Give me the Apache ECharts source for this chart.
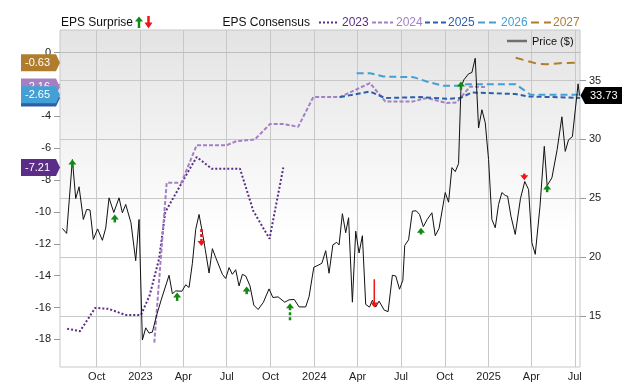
<!DOCTYPE html>
<html><head><meta charset="utf-8">
<script src="https://cdn.jsdelivr.net/npm/echarts@6/dist/echarts.min.js"></script>
<style>html,body{margin:0;padding:0;background:#fff}#c{width:640px;height:382px}</style>
</head><body><div id="c"></div>
<script>
// ---------- DATA ----------
const priceDates = ['2022-07-21','2022-07-30','2022-08-11','2022-08-18','2022-08-25','2022-09-03','2022-09-10','2022-09-17','2022-09-24','2022-10-03','2022-10-13','2022-10-20','2022-10-27','2022-11-06','2022-11-17','2022-11-24','2022-12-01','2022-12-12','2022-12-22','2022-12-29',
'2023-01-05','2023-01-12','2023-01-19','2023-01-26','2023-02-04','2023-02-14','2023-03-02','2023-03-09','2023-03-16','2023-03-29','2023-04-06','2023-04-13','2023-04-20','2023-04-27','2023-05-04','2023-05-10','2023-05-17','2023-05-25','2023-06-01','2023-06-08','2023-06-15','2023-06-22','2023-06-29','2023-07-06','2023-07-13','2023-07-20','2023-07-27','2023-08-03','2023-08-10','2023-08-19','2023-08-27','2023-09-05','2023-09-16','2023-09-28','2023-10-06','2023-10-17','2023-10-31','2023-11-09','2023-11-20','2023-11-30','2023-12-14','2023-12-21','2023-12-31',
'2024-01-09','2024-01-17','2024-01-25','2024-02-01','2024-02-09','2024-02-17','2024-02-22','2024-02-29','2024-03-07','2024-03-13','2024-03-21','2024-03-28','2024-04-04','2024-04-11','2024-04-18','2024-04-26','2024-05-02','2024-05-09','2024-05-16','2024-05-27','2024-06-04','2024-06-13','2024-06-20','2024-06-28','2024-07-05','2024-07-09','2024-07-17','2024-07-25','2024-08-02','2024-08-09','2024-08-17','2024-08-25','2024-09-04','2024-09-11','2024-09-19','2024-10-02','2024-10-09','2024-10-16','2024-10-23','2024-10-30','2024-11-04','2024-11-10','2024-11-20','2024-11-27','2024-12-04','2024-12-11','2024-12-18','2024-12-25',
'2025-01-01','2025-01-08','2025-01-15','2025-01-22','2025-01-29','2025-02-05','2025-02-10','2025-02-17','2025-02-26','2025-03-09','2025-03-18','2025-03-26','2025-04-02','2025-04-09','2025-04-19','2025-04-28','2025-05-04','2025-05-14','2025-05-25','2025-06-04','2025-06-11','2025-06-18','2025-06-26','2025-07-08','2025-07-11'];
const priceValues = [22.43,22.01,28.28,24.97,25.97,23.19,24.04,24.00,21.50,22.39,21.42,22.46,25.03,23.79,25.03,23.76,24.47,22.92,19.69,23.19,
12.94,13.98,13.53,13.62,15.06,16.42,18.45,16.88,17.12,17.09,17.64,17.41,19.47,22.35,23.62,22.31,20.65,18.64,20.71,19.95,19.24,18.53,18.17,19.10,18.53,18.92,17.54,18.53,18.39,17.54,15.91,15.54,16.14,17.29,16.56,16.61,16.16,16.36,16.39,15.76,15.76,16.63,19.13,
19.30,19.47,20.54,18.62,21.03,21.25,21.03,23.68,22.07,23.34,16.16,22.20,20.34,21.81,15.97,15.74,16.33,15.75,16.25,15.48,15.36,18.45,18.39,17.26,18.03,20.99,21.46,23.90,23.93,23.62,22.58,23.19,23.76,21.81,22.43,25.48,24.66,27.60,27.26,27.94,34.38,35.06,35.57,35.69,36.90,30.97,32.52,31.42,
28.28,23.19,22.49,24.47,25.48,25.23,25.17,23.47,21.92,24.97,26.42,25.74,21.22,20.23,24.32,29.41,26.08,26.73,29.13,31.92,28.98,29.97,30.23,34.72,33.73];

const fy2023Dates = ['2022-07-31','2022-08-27','2022-09-28','2022-10-26','2022-11-30','2023-01-02','2023-01-20','2023-02-09','2023-02-22','2023-03-30','2023-04-29','2023-05-31','2023-07-29','2023-08-26','2023-09-29','2023-10-28'];
const fy2023Values = [-17.33,-17.48,-16.02,-16.08,-16.46,-16.46,-15.26,-12.95,-10.02,-8.10,-6.55,-7.29,-7.29,-9.94,-11.68,-7.21];

const fy2024Dates = ['2023-01-30','2023-02-25','2023-03-28','2023-04-29','2023-07-01','2023-07-21','2023-08-29','2023-09-30','2023-10-28','2023-11-28','2023-12-30','2024-02-24','2024-04-27','2024-05-29','2024-07-27','2024-08-24','2024-10-05','2024-10-26','2024-11-23','2024-12-28'];
const fy2024Values = [-18.2,-8.16,-8.16,-5.81,-5.81,-5.56,-5.45,-4.48,-4.48,-4.66,-2.79,-2.79,-1.91,-3.06,-3.06,-2.85,-3.16,-3.13,-2.13,-2.16];

const fy2025Dates = ['2024-02-24','2024-04-27','2024-05-29','2024-08-10','2024-10-05','2024-11-02','2024-11-27','2025-02-26','2025-03-26','2025-07-12'];
const fy2025Values = [-2.79,-2.44,-2.85,-2.79,-2.90,-2.85,-2.50,-2.60,-2.75,-2.84];

const fy2026Dates = ['2024-03-30','2024-04-27','2024-05-25','2024-07-27','2024-08-24','2024-09-28','2024-11-02','2024-11-16','2025-02-27','2025-03-30','2025-07-12'];
const fy2026Values = [-1.29,-1.29,-1.50,-1.54,-1.81,-2.08,-2.08,-1.98,-1.98,-2.64,-2.65];

const fy2027Dates = ['2025-02-27','2025-04-15','2025-05-04','2025-05-31','2025-07-12'];
const fy2027Values = [-0.32,-0.71,-0.73,-0.66,-0.63];

// EPS surprise arrows: date, price at arrow tip, price at arrow tail, stem kind (0 solid, 1 dashed, 2 thin)
const surpriseDates = ['2022-08-11','2022-11-08','2023-03-19','2023-05-09','2023-08-12','2023-11-11','2024-05-06','2024-08-12','2024-11-04','2025-03-17','2025-05-04'];
const surpriseTip   = [28.30,23.62,16.98,20.93,17.49,16.08,15.71,22.49,34.92,26.53,26.16];
const surpriseTail  = [27.60,22.94,16.27,22.49,16.84,14.58,18.11,21.92,34.21,27.09,25.51];
const surpriseStem  = [0,0,0,1,0,1,2,0,0,0,0];

const seriesNames = ['2023','2024','2025','2026','2027'];
const lastConsensus = [-7.21,-2.16,-2.84,-2.65,-0.63];
const lastPrice = 33.73;

const xTickDates = ['2022-10-01','2023-01-01','2023-04-01','2023-07-01','2023-10-01','2024-01-01','2024-04-01','2024-07-01','2024-10-01','2025-01-01','2025-04-01','2025-07-01'];
const leftTicks = [-18,-16,-14,-12,-10,-8,-6,-4,-2,0];
const rightTicks = [15,20,25,30,35];
const xStart = '2022-07-16', xEnd = '2025-07-12';

// ---------- STYLE ----------
const FONT = 'Liberation Sans, Arial, sans-serif';
const colors = {'2023':'#5b2d86','2024':'#a47fc4','2025':'#2b5fab','2026':'#42a0d4','2027':'#b07c2e'};
const dashes = {'2023':[2,2],'2024':[4,2],'2025':[5,3],'2026':[7,4],'2027':[8,5]};
const GREEN = '#118a11', RED = '#f01515';

const T = s => Date.parse(s + 'T00:00:00Z');
const MONTHS = ['Jan','Feb','Mar','Apr','May','Jun','Jul','Aug','Sep','Oct','Nov','Dec'];
const pair = (d, v) => d.map((s, i) => [T(s), v[i]]);

const consensus = {'2023':pair(fy2023Dates,fy2023Values),'2024':pair(fy2024Dates,fy2024Values),'2025':pair(fy2025Dates,fy2025Values),'2026':pair(fy2026Dates,fy2026Values),'2027':pair(fy2027Dates,fy2027Values)};

const chart = echarts.init(document.getElementById('c'), null, {renderer:'canvas'});

function arrowItem(params, api) {
  const t = api.coord([api.value(0), api.value(1)]);
  const b = api.coord([api.value(0), api.value(2)]);
  const kind = api.value(3);
  const up = t[1] < b[1];
  const color = up ? GREEN : RED;
  const dir = up ? 1 : -1;
  const hh = 5, hw = 4;
  const baseY = t[1] + dir * hh;
  const children = [];
  children.push({type:'line', shape:{x1:t[0], y1:baseY - dir, x2:t[0], y2:b[1]},
    style:{stroke:color, lineWidth: kind === 2 ? 1.5 : 2.5, lineDash: kind === 1 ? [3,2] : null}});
  children.push({type:'polygon', shape:{points:[[t[0], t[1]], [t[0]-hw, baseY], [t[0]+hw, baseY]]}, style:{fill:color}});
  return {type:'group', children};
}

function tagItem(side) {
  return function (params, api) {
    const y = api.coord([api.value(0), api.value(1)])[1];
    const cs = params.coordSys;
    const h = 8.5;
    let pts, tx, fill;
    if (side === 'left') {
      const x0 = cs.x - 39, x1 = cs.x - 4, tip = cs.x;
      pts = [[x0,y-h],[x1,y-h],[tip,y],[x1,y+h],[x0,y+h]];
      tx = x0 + 4;
      fill = colors[seriesNames[api.value(2)]];
    } else {
      const r = cs.x + cs.width;
      const x0 = r + 42, x1 = r + 5, tip = r + 0.5;
      pts = [[tip,y],[x1,y-h],[x0,y-h],[x0,y+h],[x1,y+h]];
      tx = x1 + 5;
      fill = '#000';
    }
    return {type:'group', children:[
      {type:'polygon', shape:{points:pts}, style:{fill}},
      {type:'text', x:tx, y:y, style:{text:api.value(1).toFixed(2), fill:'#fff', font:'11px ' + FONT, align:'left', verticalAlign:'middle'}}
    ]};
  };
}

const lineSeries = seriesNames.map(n => ({
  type:'line', name:n, data:consensus[n], xAxisIndex:0, yAxisIndex:0,
  showSymbol:false, symbol:'none', z:3,
  lineStyle:{color:colors[n], width:2, type:dashes[n], cap:'butt'}
}));

const tagOrder = [0,4,1,2,3];

const option = {
  animation:false,
  backgroundColor:'#fff',
  grid:{left:60, right:60, top:30, bottom:14, show:true, borderColor:'#c8c8c8', borderWidth:1,
    backgroundColor:{type:'linear', x:0, y:0, x2:0, y2:1, colorStops:[{offset:0, color:'#e3e3e3'},{offset:0.6, color:'#ffffff'},{offset:1, color:'#ffffff'}]}},
  xAxis:{type:'value', min:T(xStart), max:T(xEnd),
    axisLine:{show:true, lineStyle:{color:'#bdbdbd'}},
    axisTick:{show:false, customValues:xTickDates.map(T)},
    splitLine:{show:true, lineStyle:{color:'#c8c8c8', width:1}},
    axisLabel:{customValues:xTickDates.map(T), margin:4, color:'#222', fontSize:11, fontFamily:FONT,
      formatter:v => { const d = new Date(v); return d.getUTCMonth() === 0 ? String(d.getUTCFullYear()) : MONTHS[d.getUTCMonth()]; }}
  },
  yAxis:[
    {type:'value', position:'left', min:-19.73, max:1.42,
      axisLine:{show:false}, splitLine:{show:false},
      axisTick:{show:true, inside:false, length:6, customValues:leftTicks, lineStyle:{color:'#999'}},
      axisLabel:{customValues:leftTicks, margin:9, color:'#222', fontSize:11, fontFamily:FONT}},
    {type:'value', position:'right', min:10.65, max:39.30,
      axisLine:{show:false},
      splitLine:{show:true, lineStyle:{color:'#c8c8c8', width:1}},
      axisTick:{show:true, inside:false, length:6, customValues:rightTicks, lineStyle:{color:'#999'}},
      axisLabel:{customValues:rightTicks, margin:9, color:'#222', fontSize:11, fontFamily:FONT}}
  ],
  series:[
    ...lineSeries,
    {type:'line', name:'Price', data:pair(priceDates, priceValues), xAxisIndex:0, yAxisIndex:1,
      showSymbol:false, symbol:'none', z:4, lineStyle:{color:'#111', width:1}},
    {type:'custom', name:'surprise', xAxisIndex:0, yAxisIndex:1, z:6, clip:false,
      data:surpriseDates.map((d,i) => [T(d), surpriseTip[i], surpriseTail[i], surpriseStem[i]]),
      renderItem:arrowItem},
    {type:'custom', name:'tagsLeft', xAxisIndex:0, yAxisIndex:0, z:8, clip:false,
      data:tagOrder.map(i => [T(xStart), lastConsensus[i], i]),
      renderItem:tagItem('left')},
    {type:'custom', name:'tagRight', xAxisIndex:0, yAxisIndex:1, z:8, clip:false,
      data:[[T(xEnd), lastPrice]],
      renderItem:tagItem('right')}
  ],
  graphic:[
    {type:'text', x:61, y:22.5, style:{text:'EPS Surprise', font:'12px ' + FONT, fill:'#111', verticalAlign:'middle'}},
    {type:'polygon', shape:{points:[[139,16.5],[135,21.5],[143,21.5]]}, style:{fill:GREEN}},
    {type:'line', shape:{x1:139, y1:21, x2:139, y2:28}, style:{stroke:GREEN, lineWidth:2.5}},
    {type:'line', shape:{x1:148.5, y1:16, x2:148.5, y2:23}, style:{stroke:RED, lineWidth:2.5}},
    {type:'polygon', shape:{points:[[148.5,28.5],[144.5,22.5],[152.5,22.5]]}, style:{fill:RED}},
    {type:'text', x:222.5, y:22.5, style:{text:'EPS Consensus', font:'12px ' + FONT, fill:'#111', verticalAlign:'middle'}},
    ...[[319,337,342],[372,393,396],[425,446,448],[478,498,501],[531,551,553]].flatMap((p, i) => {
      const n = seriesNames[i];
      return [
        {type:'line', shape:{x1:p[0], y1:22.5, x2:p[1], y2:22.5}, style:{stroke:colors[n], lineWidth:2, lineDash:dashes[n]}},
        {type:'text', x:p[2], y:22.5, style:{text:n, font:'12px ' + FONT, fill:colors[n], verticalAlign:'middle'}}
      ];
    }),
    {type:'line', shape:{x1:507, y1:41, x2:527, y2:41}, style:{stroke:'#707070', lineWidth:2.5}, z:10},
    {type:'text', x:532, y:41.5, style:{text:'Price ($)', font:'11px ' + FONT, fill:'#111', verticalAlign:'middle'}, z:10}
  ]
};
chart.setOption(option);
</script>
</body></html>
